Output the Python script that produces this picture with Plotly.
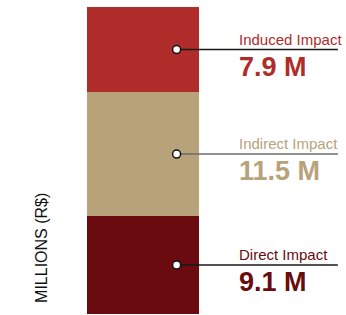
import plotly.graph_objects as go

categories = ["Direct Impact", "Indirect Impact", "Induced Impact"]
values = [9.1, 11.5, 7.9]
value_labels = ["9.1 M", "11.5 M", "7.9 M"]
colors = ["#6a0b10", "#b8a27a", "#b02c2a"]
line_colors = ["#1a1a1a", "#6b6b6b", "#1a1a1a"]

total = sum(values)
fig = go.Figure()

base = 0
mids = []
for name, v, c in zip(categories, values, colors):
    fig.add_trace(go.Bar(x=[0], y=[v], base=[base], width=1, marker=dict(color=c, line=dict(width=0)),
                         name=name, showlegend=False, hoverinfo="skip"))
    mids.append(base + v / 2)
    base += v

FONT = "Liberation Sans"
dot_x = 0.3
line_end = 1.74
label_x = 0.84

for name, lab, m, c, lc in zip(categories, value_labels, mids, colors, line_colors):
    fig.add_trace(go.Scatter(x=[dot_x, line_end], y=[m, m], mode="lines",
                             line=dict(color=lc, width=1.5), showlegend=False, hoverinfo="skip"))
    fig.add_trace(go.Scatter(x=[dot_x], y=[m], mode="markers", cliponaxis=False,
                             marker=dict(color="white", size=8, line=dict(color="#111", width=1.5)),
                             showlegend=False, hoverinfo="skip"))
    fig.add_annotation(x=label_x, y=m, xref="x", yref="y", text=name, showarrow=False,
                       xanchor="left", yanchor="bottom", yshift=0,
                       font=dict(family=FONT, size=15, color=c))
    fig.add_annotation(x=label_x, y=m, xref="x", yref="y", text="<b>" + lab + "</b>", showarrow=False,
                       xanchor="left", yanchor="top", yshift=0,
                       font=dict(family=FONT, size=27, color=c))

fig.add_annotation(x=-0.174, y=0.215, xref="paper", yref="paper", text="MILLIONS (R$)",
                   textangle=-90, showarrow=False, xanchor="center", yanchor="middle",
                   font=dict(family="Liberation Sans", size=16, color="#111"))

fig.update_layout(
    width=346, height=315,
    margin=dict(l=87, r=0, t=7, b=1),
    paper_bgcolor="white", plot_bgcolor="white",
    barmode="overlay", bargap=0,
    xaxis=dict(range=[-0.5, 1.8125], visible=False, fixedrange=True),
    yaxis=dict(range=[0, total], visible=False, fixedrange=True),
)

fig.write_html("out.html", config={"displayModeBar": False},
               post_script="document.body.style.margin='0';document.body.style.overflow='hidden';")
